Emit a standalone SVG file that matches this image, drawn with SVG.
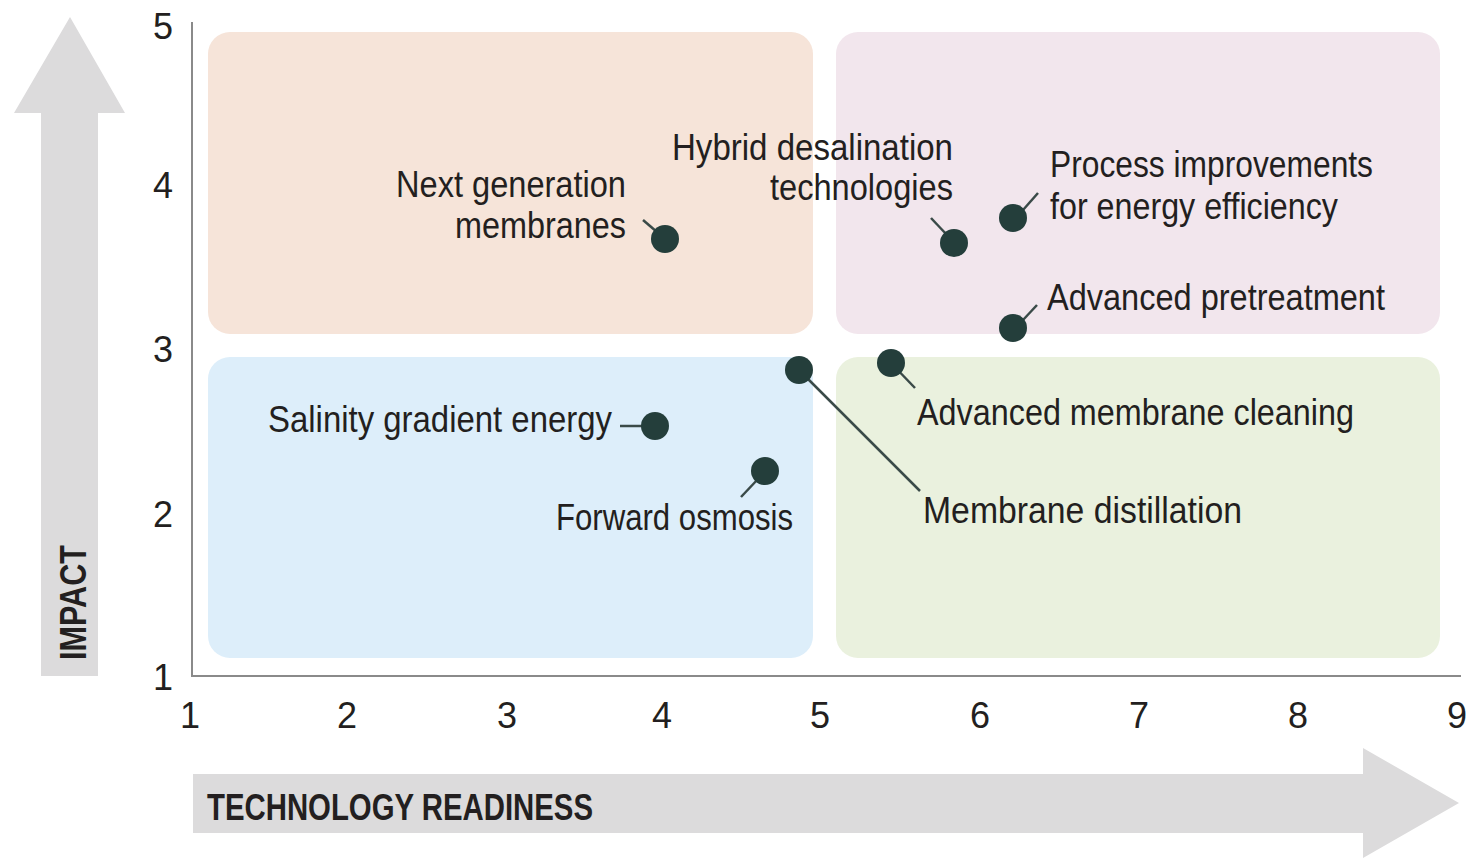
<svg xmlns="http://www.w3.org/2000/svg" width="1467" height="858" viewBox="0 0 1467 858">
<defs>
<style>
.lbl{font-family:"Liberation Sans",Arial,sans-serif;font-size:36px;fill:#231f20}
.tick{font-family:"Liberation Sans",Arial,sans-serif;font-size:36px;fill:#231f20;text-anchor:middle}
.title{font-family:"Liberation Sans",Arial,sans-serif;font-size:36px;font-weight:bold;fill:#231f20}
.dot{fill:#243e3b}
.lead{stroke:#3a4a48;stroke-width:2.5;fill:none}
.arrow{fill:#dcdbdc}
.axis{stroke:#8a8a8a;stroke-width:2;fill:none}
</style>
</defs>
<rect width="1467" height="858" fill="#ffffff"/>
<g id="arrows">
<polygon class="arrow" points="41,676 41,113 14,113 70,17 125,113 98,113 98,676"/>
<polygon class="arrow" points="193,774 1363,774 1363,748 1459,803 1363,858 1363,833 193,833"/>
<text class="title" transform="translate(86,660) rotate(-90)" textLength="115" lengthAdjust="spacingAndGlyphs">IMPACT</text>
<text class="title" x="207" y="820" textLength="386" lengthAdjust="spacingAndGlyphs">TECHNOLOGY READINESS</text>
</g>
<g id="quadrants">
<rect x="208" y="32" width="605" height="302" rx="22" fill="#f6e4d9"/>
<rect x="836" y="32" width="604" height="302" rx="22" fill="#f2e6ed"/>
<rect x="208" y="357" width="605" height="301" rx="22" fill="#ddeefa"/>
<rect x="836" y="357" width="604" height="301" rx="22" fill="#eaf1de"/>
</g>
<g id="axes">
<path class="axis" d="M192,22 V676 H1461"/>
<text class="tick" x="163" y="39">5</text>
<text class="tick" x="163" y="198">4</text>
<text class="tick" x="163" y="362">3</text>
<text class="tick" x="163" y="527">2</text>
<text class="tick" x="163" y="690">1</text>
<text class="tick" x="190" y="728">1</text>
<text class="tick" x="347" y="728">2</text>
<text class="tick" x="507" y="728">3</text>
<text class="tick" x="662" y="728">4</text>
<text class="tick" x="820" y="728">5</text>
<text class="tick" x="980" y="728">6</text>
<text class="tick" x="1139" y="728">7</text>
<text class="tick" x="1298" y="728">8</text>
<text class="tick" x="1457" y="728">9</text>
</g>
<g id="connectors">
<line class="lead" x1="643" y1="220" x2="657" y2="232"/>
<line class="lead" x1="931" y1="218" x2="947" y2="235"/>
<line class="lead" x1="1023" y1="210" x2="1038" y2="193"/>
<line class="lead" x1="1023" y1="320" x2="1037" y2="305"/>
<line class="lead" x1="891" y1="363" x2="915" y2="388"/>
<line class="lead" x1="799" y1="370" x2="920" y2="491"/>
<line class="lead" x1="620" y1="426" x2="645" y2="426"/>
<line class="lead" x1="758" y1="479" x2="741" y2="497"/>
</g>
<g id="node-next-generation-membranes">
<circle class="dot" cx="665" cy="239" r="14"/>
<text class="lbl" x="626" y="197" text-anchor="end" textLength="230" lengthAdjust="spacingAndGlyphs">Next generation</text>
<text class="lbl" x="626" y="238" text-anchor="end" textLength="171" lengthAdjust="spacingAndGlyphs">membranes</text>
</g>
<g id="node-hybrid-desalination">
<circle class="dot" cx="954" cy="243" r="14"/>
<text class="lbl" x="953" y="160" text-anchor="end" textLength="281" lengthAdjust="spacingAndGlyphs">Hybrid desalination</text>
<text class="lbl" x="953" y="200" text-anchor="end" textLength="183" lengthAdjust="spacingAndGlyphs">technologies</text>
</g>
<g id="node-process-improvements">
<circle class="dot" cx="1013" cy="218" r="14"/>
<text class="lbl" x="1050" y="177" textLength="323" lengthAdjust="spacingAndGlyphs">Process improvements</text>
<text class="lbl" x="1050" y="219" textLength="288" lengthAdjust="spacingAndGlyphs">for energy efficiency</text>
</g>
<g id="node-advanced-pretreatment">
<circle class="dot" cx="1013" cy="328" r="14"/>
<text class="lbl" x="1047" y="310" textLength="338" lengthAdjust="spacingAndGlyphs">Advanced pretreatment</text>
</g>
<g id="node-advanced-membrane-cleaning">
<circle class="dot" cx="891" cy="363" r="14"/>
<text class="lbl" x="917" y="425" textLength="437" lengthAdjust="spacingAndGlyphs">Advanced membrane cleaning</text>
</g>
<g id="node-membrane-distillation">
<circle class="dot" cx="799" cy="370" r="14"/>
<text class="lbl" x="923" y="523" textLength="319" lengthAdjust="spacingAndGlyphs">Membrane distillation</text>
</g>
<g id="node-salinity-gradient-energy">
<circle class="dot" cx="655" cy="426" r="14"/>
<text class="lbl" x="612" y="432" text-anchor="end" textLength="344" lengthAdjust="spacingAndGlyphs">Salinity gradient energy</text>
</g>
<g id="node-forward-osmosis">
<circle class="dot" cx="765" cy="471" r="14"/>
<text class="lbl" x="793" y="530" text-anchor="end" textLength="237" lengthAdjust="spacingAndGlyphs">Forward osmosis</text>
</g>
</svg>
